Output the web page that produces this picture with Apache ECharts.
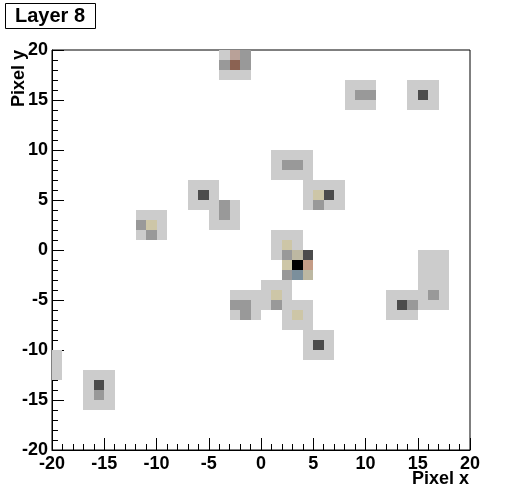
<!DOCTYPE html>
<html>
<head>
<meta charset="utf-8">
<script src="https://cdn.jsdelivr.net/npm/echarts@6/dist/echarts.min.js"></script>
<style>
html,body{margin:0;padding:0;background:#fff;}
#chart{width:524px;height:500px;}
</style>
</head>
<body>
<div id="chart"></div>
<script>
// Pixel cells: lower-left corner (x, y) of each 1x1 pixel and its colour level
const cellX = [
  -4,-3,-2, -4,-3,-2, -4,-3,-2,
  8,9,10, 8,9,10, 8,9,10,
  14,15,16, 14,15,16, 14,15,16,
  1,2,3,4, 1,2,3,4, 1,2,3,4,
  4,5,6,7, 4,5,6,7, 4,5,6,7,
  -7,-6,-5, -7,-6,-5, -7,-6,-5,
  -4,-3, -5,-4,-3, -5,-4,-3,
  -12,-11,-10, -12,-11,-10, -12,-11,-10,
  1,2,3, 1,2,3, 1,2,3,4, 2,3,4, 2,3,4,
  0,1,2, -3,-2,-1,0,1,2, -3,-2,-1,0,1,2,3,4, -3,-2,-1,2,3,4, 2,3,4,
  4,5,6, 4,5,6, 4,5,6,
  15,16,17, 15,16,17, 15,16,17, 15,16,17, 15,16,17, 15,16,17,
  12,13,14, 12,13,14, 12,13,14,
  -20,-20,-20,
  -17,-16,-15, -17,-16,-15, -17,-16,-15, -17,-16,-15
];
const cellY = [
  19,19,19, 18,18,18, 17,17,17,
  16,16,16, 15,15,15, 14,14,14,
  16,16,16, 15,15,15, 14,14,14,
  9,9,9,9, 8,8,8,8, 7,7,7,7,
  6,6,6,6, 5,5,5,5, 4,4,4,4,
  6,6,6, 5,5,5, 4,4,4,
  4,4, 3,3,3, 2,2,2,
  3,3,3, 2,2,2, 1,1,1,
  1,1,1, 0,0,0, -1,-1,-1,-1, -2,-2,-2, -3,-3,-3,
  -4,-4,-4, -5,-5,-5,-5,-5,-5, -6,-6,-6,-6,-6,-6,-6,-6, -7,-7,-7,-7,-7,-7, -8,-8,-8,
  -9,-9,-9, -10,-10,-10, -11,-11,-11,
  -1,-1,-1, -2,-2,-2, -3,-3,-3, -4,-4,-4, -5,-5,-5, -6,-6,-6,
  -5,-5,-5, -6,-6,-6, -7,-7,-7,
  -11,-12,-13,
  -13,-13,-13, -14,-14,-14, -15,-15,-15, -16,-16,-16
];
const cellLevel = [
  1,7,2, 2,9,2, 1,1,1,
  1,1,1, 1,2,2, 1,1,1,
  1,1,1, 1,3,1, 1,1,1,
  1,1,1,1, 1,2,2,1, 1,1,1,1,
  1,1,1,1, 1,4,3,1, 1,2,1,1,
  1,1,1, 1,3,1, 1,1,1,
  2,1, 1,2,1, 1,1,1,
  1,1,1, 2,4,1, 1,2,1,
  1,1,1, 1,4,1, 1,2,5,3, 4,10,6, 2,8,5,
  1,1,1, 1,1,1,1,4,1, 2,2,1,1,2,1,1,1, 1,2,1,1,4,1, 1,1,1,
  1,1,1, 1,3,1, 1,1,1,
  1,1,1, 1,1,1, 1,1,1, 1,1,1, 1,2,1, 1,1,1,
  1,1,1, 1,3,2, 1,1,1,
  1,1,1,
  1,1,1, 1,3,1, 1,2,1, 1,1,1
];
const xTicks = [-20, -15, -10, -5, 0, 5, 10, 15, 20];
const yTicks = [-20, -15, -10, -5, 0, 5, 10, 15, 20];
const titleText = 'Layer 8';
const xTitle = 'Pixel x';
const yTitle = 'Pixel y';

const levelColors = ['#ffffff', '#cccccc', '#999999', '#4c4c4c', '#cdc6a7', '#bdb8a2',
                     '#c49c86', '#b9a198', '#7b8f9c', '#8b6252', '#000000'];

const data = cellX.map((x, i) => [x, cellY[i], cellLevel[i]]);

const font = 'Liberation Sans, Arial, Helvetica, sans-serif';
const chart = echarts.init(document.getElementById('chart'), null, {renderer: 'canvas'});

function axisCommon(ticks) {
  return {
    type: 'value',
    min: ticks[0],
    max: ticks[ticks.length - 1],
    interval: ticks[1] - ticks[0],
    axisLine: {show: true, onZero: false, lineStyle: {color: '#000', width: 1}},
    axisTick: {show: true, inside: true, length: 12, lineStyle: {color: '#000', width: 1}},
    minorTick: {show: true, splitNumber: 5, length: 6, lineStyle: {color: '#000', width: 1}},
    splitLine: {show: false},
    minorSplitLine: {show: false},
    axisLabel: {color: '#000', fontSize: 18, fontWeight: 'bold', fontFamily: font}
  };
}

const xAxis = axisCommon(xTicks);
xAxis.axisLabel.margin = 5;
const yAxis = axisCommon(yTicks);
yAxis.axisLabel.margin = 4;

chart.setOption({
  animation: false,
  backgroundColor: '#ffffff',
  grid: {left: 52, top: 50, width: 418, height: 400, show: true, borderColor: '#000', borderWidth: 1,
         backgroundColor: 'transparent', containLabel: false},
  xAxis: xAxis,
  yAxis: yAxis,
  series: [{
    type: 'custom',
    clip: true,
    data: data,
    encode: {x: 0, y: 1},
    renderItem: function (params, api) {
      const x = api.value(0), y = api.value(1), lv = api.value(2);
      const p0 = api.coord([x, y + 1]);
      const p1 = api.coord([x + 1, y]);
      const x0 = Math.round(p0[0]), y0 = Math.round(p0[1]);
      const x1 = Math.round(p1[0]), y1 = Math.round(p1[1]);
      return {
        type: 'rect',
        shape: {x: x0, y: y0, width: x1 - x0, height: y1 - y0},
        style: {fill: levelColors[lv], stroke: null},
        z2: 0
      };
    },
    z: 1
  }],
  graphic: [
    {type: 'rect', left: 5, top: 3, shape: {width: 90, height: 25},
     style: {fill: '#fff', stroke: '#000', lineWidth: 1}, z: 10},
    {type: 'text', x: 50, y: 16, z: 11,
     style: {text: titleText, fill: '#000', font: 'bold 20px ' + font, align: 'center', verticalAlign: 'middle'}},
    {type: 'text', x: 469, y: 479, z: 11,
     style: {text: xTitle, fill: '#000', font: 'bold 18px ' + font, align: 'right', verticalAlign: 'middle'}},
    {type: 'text', x: 19, y: 50, rotation: Math.PI / 2, z: 11,
     style: {text: yTitle, fill: '#000', font: 'bold 18px ' + font, align: 'right', verticalAlign: 'middle'}}
  ]
});
</script>
</body>
</html>
